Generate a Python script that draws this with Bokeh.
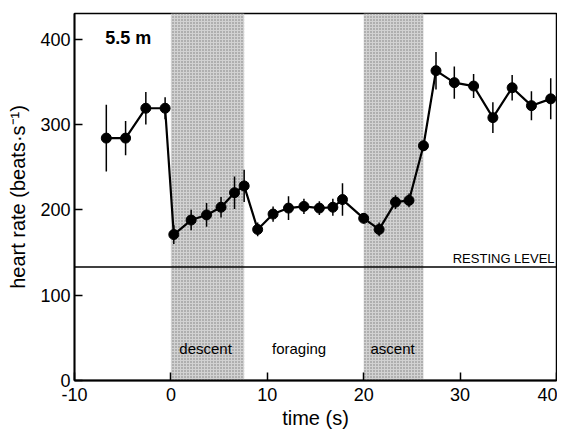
from bokeh.plotting import figure
from bokeh.models import Range1d, FixedTicker, Span, Label
from bokeh.embed import file_html
from bokeh.resources import INLINE

# data
time_s = [-6.7, -4.7, -2.6, -0.6, 0.3, 2.1, 3.7, 5.2, 6.6, 7.6, 9.0, 10.6, 12.2, 13.8,
          15.4, 16.8, 17.8, 20.0, 21.6, 23.3, 24.7, 26.2, 27.5, 29.4, 31.4, 33.4,
          35.4, 37.4, 39.4]
heart_rate = [284, 284, 319, 319, 171, 188, 194, 203, 220, 228, 177, 195, 202, 204,
              202, 203, 212, 190, 177, 209, 211, 275, 363, 349, 345, 308, 343, 322, 330]
err = [39, 20, 19, 13, 11, 12, 14, 12, 19, 19, 8, 9, 14, 9,
       8, 10, 19, 6, 8, 8, 8, 6, 22, 19, 14, 18, 15, 17, 24]
phase_names = ["descent", "foraging", "ascent"]
shade_start = [0.0, 20.0]
shade_end = [7.6, 26.2]
resting_level = 133
x_ticks = [-10, 0, 10, 20, 30, 40]
y_ticks = [0, 100, 200, 300, 400]

FONT = "Liberation Sans"

p = figure(frame_width=482, frame_height=367, output_backend="svg",
           toolbar_location=None, x_range=Range1d(-10, 40), y_range=Range1d(0, 430),
           min_border_left=74, min_border_top=13, min_border_right=1, min_border_bottom=0)
p.background_fill_color = "white"
p.border_fill_color = "white"
p.outline_line_color = "black"
p.outline_line_width = 1.5
p.xgrid.visible = False
p.ygrid.visible = False

# shaded phases
lo = [0] * len(shade_start)
hi = [430] * len(shade_start)
p.quad(left=shade_start, right=shade_end, bottom=lo, top=hi,
       fill_color="#d2d2d2", line_color=None,
       hatch_pattern="dot", hatch_color="#7a7a7a", hatch_scale=3, hatch_weight=1)

# resting level
p.add_layout(Span(location=resting_level, dimension="width", line_color="black", line_width=1.3))

# error bars
lower = [h - e for h, e in zip(heart_rate, err)]
upper = [h + e for h, e in zip(heart_rate, err)]
p.segment(x0=time_s, y0=lower, x1=time_s, y1=upper, line_color="black", line_width=1.5)
p.line(time_s, heart_rate, line_color="black", line_width=2.2)
p.scatter(time_s, heart_rate, size=10, fill_color="black", line_color="black")

for ax in (p.xaxis[0], p.yaxis[0]):
    ax.major_tick_in = 8
    ax.major_tick_out = 0
    ax.minor_tick_in = 0
    ax.minor_tick_out = 0
    ax.axis_line_width = 1.8
    ax.major_tick_line_width = 1.5
    ax.major_label_text_font = FONT
    ax.major_label_text_font_size = "18px"
    ax.major_label_text_color = "black"
    ax.axis_label_text_font = FONT
    ax.axis_label_text_font_size = "20px"
    ax.axis_label_text_font_style = "normal"
    ax.axis_label_text_color = "black"

p.xaxis[0].ticker = FixedTicker(ticks=x_ticks)
p.yaxis[0].ticker = FixedTicker(ticks=y_ticks)
p.xaxis[0].major_label_overrides = {t: str(t) for t in x_ticks}
p.xaxis[0].axis_label = "time (s)"
p.yaxis[0].axis_label = "heart rate (beats\u00b7s\u207b\u00b9)"
p.xaxis[0].major_label_standoff = 7
p.xaxis[0].axis_label_standoff = 3
p.yaxis[0].major_label_standoff = 4
p.yaxis[0].axis_label_standoff = 8

# annotations
p.add_layout(Label(x=-6.8, y=401, text="5.5 m", text_font=FONT, text_font_size="18px",
                   text_font_style="bold", text_baseline="middle", text_align="left",
                   text_color="black"))
phase_x = [3.6, 13.3, 23.0]
for name, xx in zip(phase_names, phase_x):
    p.add_layout(Label(x=xx, y=37, text=name, text_font=FONT, text_font_size="15px",
                       text_baseline="middle", text_align="center", text_color="black"))
p.add_layout(Label(x=39.8, y=resting_level + 1, text="RESTING LEVEL",
                   text_font=FONT, text_font_size="13px", text_color="black",
                   text_baseline="bottom", text_align="right"))

open("out.html", "w").write(file_html(p, INLINE))
